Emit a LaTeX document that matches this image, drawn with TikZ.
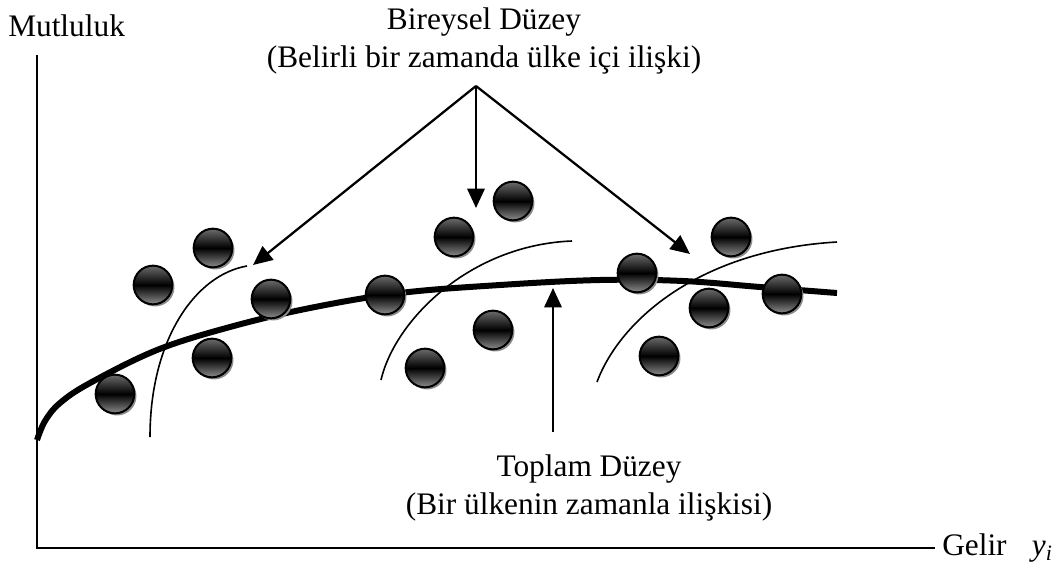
\documentclass[tikz,border=0pt]{standalone}
\usepackage{fontspec}
\setmainfont{Liberation Serif}
\usetikzlibrary{arrows.meta,shadows}

\tikzset{
  ball/.style={circle,draw,line width=1.5pt,minimum size=29pt,inner sep=0pt,
    top color=black!58,bottom color=black!45,middle color=black,
    drop shadow={shadow xshift=1.6pt,shadow yshift=-1.6pt,fill=black!45,opacity=1}},
  lbl/.style={align=center,font=\fontsize{23.5}{28}\selectfont,inner sep=0pt}
}

\begin{document}
\begin{tikzpicture}[x=0.75pt,y=-0.75pt]
        \useasboundingbox (0,0) rectangle (1061,568);

        % axes
        \coordinate (O) at (37,548);
        \coordinate (yend) at (37,55);
        \coordinate (xend) at (935,548);
        \draw[line width=1.2pt] (yend) -- (O) -- (xend);
        \node[lbl,anchor=west] (ylab) at (8,26) {Mutluluk};
        \node[lbl,anchor=west] (xlab) at (942,548) {Gelir\;\; \textit{y}\textsubscript{\textit{i}}};

        % labels
        \node[lbl] (birey) at (484,41) {Bireysel Düzey\\(Belirli bir zamanda ülke içi ilişki)};
        \node[lbl] (toplam) at (589,488) {Toplam Düzey\\(Bir ülkenin zamanla ilişkisi)};

        % thin curves
        \draw[line width=1.2pt] (150,437) .. controls (150,340) and (195,275) .. (247,266);
        \draw[line width=1.2pt] (381,380) .. controls (395,320) and (470,245) .. (572,241);
        \draw[line width=1.2pt] (597,382) .. controls (620,320) and (700,250) .. (837,242);

        % thick curve
        \draw[line width=4.5pt] plot[smooth,tension=0.6] coordinates {(37,440) (45,421) (60,403)
            (90,383) (157,350) (230,327) (310,308) (400,293) (500,285) (600,280)
            (683,281) (760,287) (837,293)};

        % balls
        \node[ball] (b1) at (115,394) {};
        \node[ball] (b2) at (153,285) {};
        \node[ball] (b3) at (213,248) {};
        \node[ball] (b4) at (271,299) {};
        \node[ball] (b5) at (212,358) {};
        \node[ball] (b6) at (385,295) {};
        \node[ball] (b7) at (454,237) {};
        \node[ball] (b8) at (513,201) {};
        \node[ball] (b9) at (493,330) {};
        \node[ball] (b10) at (425,368) {};
        \node[ball] (b11) at (637,273) {};
        \node[ball] (b12) at (731,237) {};
        \node[ball] (b13) at (709,308) {};
        \node[ball] (b14) at (782,294) {};
        \node[ball] (b15) at (659,356) {};

        % arrows
        \coordinate (src) at (476,86);
        \coordinate (t1) at (253,265);
        \coordinate (t2) at (476,208);
        \coordinate (t3) at (690,254);
        \coordinate (tsrc) at (553,432);
        \coordinate (t4) at (553,288);
        \path [line width=1.7pt,->,>={Triangle[length=14.5pt,width=13pt]}] (src) edge (t1);
        \path [line width=1.7pt,->,>={Triangle[length=14.5pt,width=13pt]}] (src) edge (t2);
        \path [line width=1.7pt,->,>={Triangle[length=14.5pt,width=13pt]}] (src) edge (t3);
        \path [line width=1.7pt,->,>={Triangle[length=14.5pt,width=13pt]}] (tsrc) edge (t4);
    \end{tikzpicture}
\end{document}
